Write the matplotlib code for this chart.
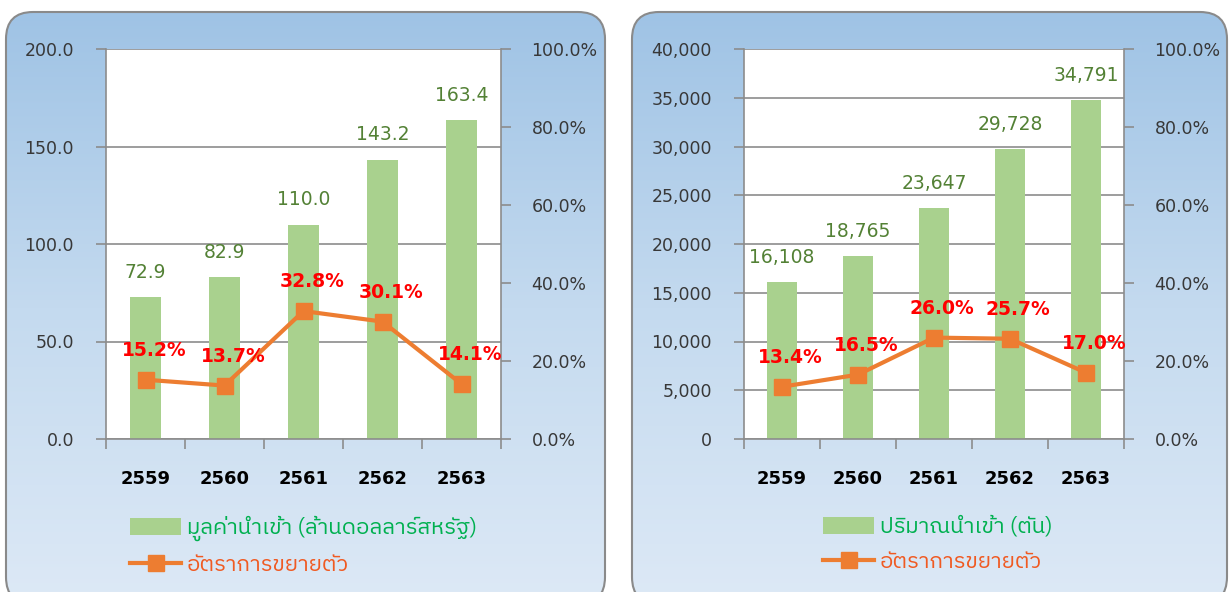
import matplotlib
matplotlib.use('Agg')
import matplotlib.pyplot as plt
import numpy as np
from matplotlib import font_manager
from matplotlib.ft2font import FT2Font
from matplotlib.patches import FancyBboxPatch, Patch
from matplotlib.lines import Line2D
from matplotlib.colors import LinearSegmentedColormap

years = ['2559', '2560', '2561', '2562', '2563']
value_musd = [72.9, 82.9, 110.0, 143.2, 163.4]
value_growth = [15.2, 13.7, 32.8, 30.1, 14.1]
volume_ton = [16108, 18765, 23647, 29728, 34791]
volume_growth = [13.4, 16.5, 26.0, 25.7, 17.0]

value_label = 'มูลค่านำเข้า (ล้านดอลลาร์สหรัฐ)'
volume_label = 'ปริมาณนำเข้า (ตัน)'
growth_label = 'อัตราการขยายตัว'

BAR = '#a9d18e'
LINE = '#ed7d31'
GRID = '#8c8c8c'


def find_thai_font():
    best = None
    for f in font_manager.fontManager.ttflist:
        try:
            cmap = FT2Font(f.fname).get_charmap()
        except Exception:
            continue
        if 0x0E21 in cmap:
            if 'thai' in f.name.lower():
                return f.name
            best = best or f.name
    return best


thai = find_thai_font()
thai_family = [thai, 'DejaVu Sans'] if thai else ['DejaVu Sans']

W, H = 1232, 592
fig = plt.figure(figsize=(W / 100, H / 100), dpi=100)

# background: rounded panels with a vertical blue gradient (pixel coords, y up)
bg = fig.add_axes([0, 0, 1, 1], zorder=0)
bg.axis('off')
cmap = LinearSegmentedColormap.from_list('panel', ['#dde9f6', '#c4daef', '#9fc3e5'])
grad = np.linspace(0, 1, 256).reshape(-1, 1)
for x0, x1 in [(6, 605), (632, 1227)]:
    box = FancyBboxPatch((x0, -12), x1 - x0, H - 12 + 12, boxstyle='round,pad=0,rounding_size=27',
                         facecolor='none', edgecolor='#8a8a8a', lw=1.5, zorder=2)
    bg.add_patch(box)
    im = bg.imshow(grad, cmap=cmap, aspect='auto', origin='lower',
                   extent=(x0, x1, -12, H - 12), zorder=1)
    im.set_clip_path(box)
bg.set_xlim(0, W)
bg.set_ylim(0, H)


def panel(rect, bars, growth, ymax, ystep, fmt, legend_label, legend_x):
    ax = fig.add_axes(rect, zorder=1)
    ax.set_facecolor('white')
    x = np.arange(len(years))
    ax.bar(x, bars, width=0.4, color=BAR, zorder=2)
    ax.set_xlim(-0.5, len(years) - 0.5)
    ax.set_ylim(0, ymax)
    ticks = np.arange(0, ymax + 1, ystep)
    ax.set_yticks(ticks)
    ax.set_yticklabels([fmt(v) for v in ticks])
    ax.set_axisbelow(True)
    ax.grid(axis='y', color=GRID, lw=1.2)
    ax.set_xticks(x)
    ax.set_xticklabels(years, fontsize=13, fontweight='bold', color='black')
    ax.set_xticks(np.arange(-0.5, len(years)), minor=True)
    ax.tick_params(axis='x', which='major', length=0, pad=22)
    ax.tick_params(axis='x', which='minor', length=7, width=1.2, color=GRID)
    ax.tick_params(axis='y', length=7, width=1.2, color=GRID, labelsize=12.5,
                   labelcolor='#383838', pad=16)
    for s in ['left', 'right', 'bottom']:
        ax.spines[s].set_color(GRID)
        ax.spines[s].set_linewidth(1.2)
    ax.spines['top'].set_visible(False)
    for xi, v in zip(x, bars):
        ax.annotate(fmt(v), (xi, v), xytext=(0, 11), textcoords='offset points',
                    ha='center', va='bottom', fontsize=13.5, color='#538135')

    ax2 = ax.twinx()
    ax2.set_ylim(0, 100)
    ax2.set_yticks(np.arange(0, 101, 20))
    ax2.set_yticklabels(['%.1f%%' % v for v in np.arange(0, 101, 20)])
    ax2.tick_params(axis='y', length=7, width=1.2, color=GRID, labelsize=12.5,
                    labelcolor='#383838', pad=15)
    for s in ['left', 'right', 'bottom', 'top']:
        ax2.spines[s].set_visible(False)
    ax2.plot(x, growth, color=LINE, lw=3, marker='s', ms=11.5, zorder=3)
    for xi, g in zip(x, growth):
        ax2.annotate('%.1f%%' % g, (xi, g), xytext=(6, 21), textcoords='offset points',
                     ha='center', va='center', fontsize=13.5, fontweight='bold', color='#ff0000')

    handles = [Patch(facecolor=BAR, edgecolor='none'),
               Line2D([], [], color=LINE, lw=3, marker='s', ms=11.5)]
    leg = ax.legend(handles, [legend_label, growth_label], loc='upper left',
                    bbox_to_anchor=(legend_x, 1 - 516 / H), bbox_transform=fig.transFigure,
                    frameon=False, prop={'family': thai_family, 'size': 16},
                    handlelength=2.3, handleheight=0.8, handletextpad=0.25,
                    borderpad=0, borderaxespad=0, labelspacing=0.58)
    leg.get_texts()[0].set_color('#00b050')
    leg.get_texts()[1].set_color('#f05a22')
    return ax


panel([106 / W, 1 - 439 / H, 395 / W, 390 / H], value_musd, value_growth,
      200, 50, lambda v: '%.1f' % v, value_label, 130 / W)
panel([744 / W, 1 - 439 / H, 380 / W, 390 / H], volume_ton, volume_growth,
      40000, 5000, lambda v: '{:,.0f}'.format(v), volume_label, 823 / W)

fig.savefig('out.png', dpi=100)
